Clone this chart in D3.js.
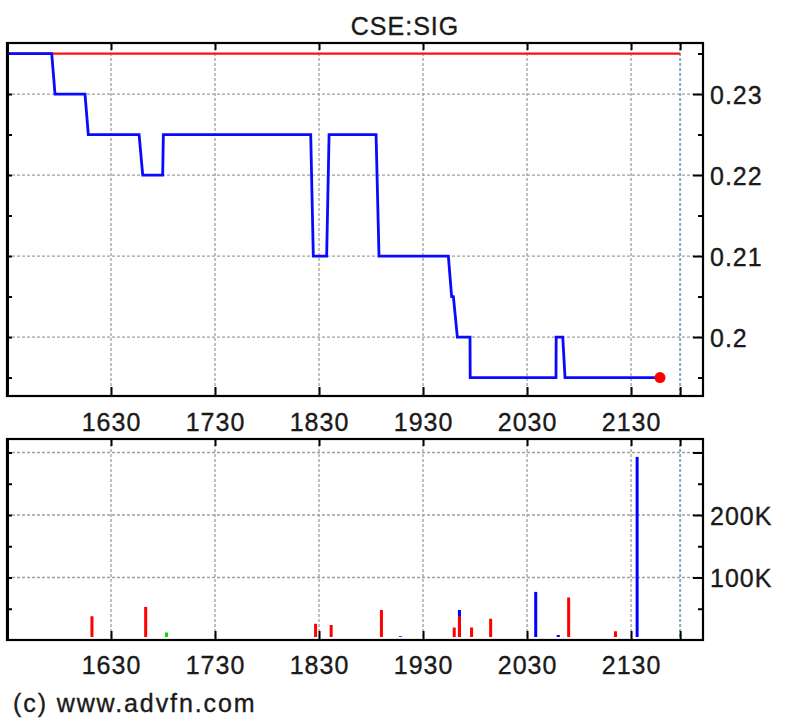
<!DOCTYPE html>
<html><head><meta charset="utf-8">
<script src="https://cdn.jsdelivr.net/npm/d3@7"></script>
<style>
body{margin:0;background:#fff}
text{font-family:"Liberation Sans",Arial,sans-serif;fill:#1a1a1a;letter-spacing:1px;stroke:#1a1a1a;stroke-width:0.35px}
</style>
</head><body>
<svg id="c" width="810" height="726"></svg>
<script>
// ---------- data ----------
const title = "CSE:SIG";
const copyright = "(c) www.advfn.com";
const sessionStart = "15:30:00";
const sessionEnd = "21:58:18";
const axisEnd = "22:11:30";
const xTickLabels = ["1630", "1730", "1830", "1930", "2030", "2130"];

const priceTimes = ["15:30:00","15:55:48","15:57:42","16:15:00","16:16:54","16:46:12","16:48:18","16:59:48",
  "17:00:12","18:25:12","18:26:42","18:34:24","18:35:48","19:02:54","19:04:36","19:44:36","19:46:30",
  "19:47:30","19:49:48","19:57:06","19:57:12","20:46:42","20:46:48","20:50:36","20:51:54","21:46:42"];
const priceValues = [0.235,0.235,0.23,0.23,0.225,0.225,0.22,0.22,
  0.225,0.225,0.21,0.21,0.225,0.225,0.21,0.21,0.205,
  0.205,0.2,0.2,0.195,0.195,0.2,0.2,0.195,0.195];
const refPrice = 0.235;
const priceTicks = [0.2, 0.21, 0.22, 0.23];
const priceTickLabels = ["0.2", "0.21", "0.22", "0.23"];
const priceMinorTicks = [0.195, 0.205, 0.215, 0.225, 0.235];
const priceDomain = [0.19272, 0.2363];

const volTimes = ["16:19:00","16:50:00","17:02:00","18:28:00","18:37:00","19:06:00","19:17:00","19:48:00",
  "19:51:00","19:51:00","19:58:00","20:09:00","20:35:00","20:48:00","20:54:00","21:21:00","21:33:30"];
const volValues = [38000,53000,12000,26000,24000,48000,6000,20000,
  48000,38000,20000,34000,77000,8000,68000,14000,293000];
const volColors = ["red","red","green","red","red","red","blue","red",
  "blue","red","red","red","blue","blue","red","red","blue"];
const volGridTicks = [100000, 200000, 300000];
const volLabelTicks = [100000, 200000];
const volTickLabels = ["100K", "200K"];
const volMinorTicks = [50000, 150000, 250000];
const volDomain = [0, 321600];

// ---------- drawing ----------
const colorMap = {red: "#ff0000", blue: "#0000ff", green: "#00e000"};
const parseT = d3.timeParse("%H:%M:%S");
const parseHM = d3.timeParse("%H%M");
const svg = d3.select("#c");
const L = 7, R = 703;
const x = d3.scaleTime().domain([parseT(sessionStart), parseT(axisEnd)]).range([L, R]);
const xTicks = xTickLabels.map(parseHM);
const endT = parseT(sessionEnd);

const P = {top: 43, bottom: 396};
const V = {top: 439, bottom: 640};
const yP = d3.scaleLinear().domain(priceDomain).range([P.bottom, P.top]);
const yV = d3.scaleLinear().domain(volDomain).range([V.bottom, V.top]);

const gridStyle = s => s.attr("stroke", "#a0a0a0").attr("stroke-width", 1.3).attr("stroke-dasharray", "3,2");

function panel(box, y, grid, major, minor) {
  const g = svg.append("g");
  g.selectAll(".hg").data(grid).join("line")
    .attr("x1", L).attr("x2", R).attr("y1", d => y(d)).attr("y2", d => y(d)).call(gridStyle);
  g.selectAll(".vg").data(xTicks).join("line")
    .attr("x1", d => x(d)).attr("x2", d => x(d)).attr("y1", box.top).attr("y2", box.bottom).call(gridStyle);
  g.append("line").attr("x1", x(endT)).attr("x2", x(endT)).attr("y1", box.top).attr("y2", box.bottom)
    .attr("stroke", "#7fb0b8").attr("stroke-width", 2).attr("stroke-dasharray", "3,2");
  const allX = xTicks.concat([endT]);
  g.append("g").attr("transform", `translate(0,${box.top})`)
    .call(d3.axisBottom(x).tickValues(allX).tickSize(7).tickFormat(""))
    .call(a => a.select(".domain").remove())
    .selectAll("line").attr("stroke", "#000").attr("stroke-width", 2);
  g.append("g").attr("transform", `translate(0,${box.bottom})`)
    .call(d3.axisTop(x).tickValues(allX).tickSize(9).tickFormat(""))
    .call(a => a.select(".domain").remove())
    .selectAll("line").attr("stroke", "#000").attr("stroke-width", 2);
  g.append("g").attr("transform", `translate(${R},0)`)
    .call(d3.axisLeft(y).tickValues(major).tickSize(10).tickFormat(""))
    .call(a => a.select(".domain").remove())
    .selectAll("line").attr("stroke", "#000").attr("stroke-width", 2);
  g.append("g").attr("transform", `translate(${R},0)`)
    .call(d3.axisLeft(y).tickValues(minor).tickSize(5).tickFormat(""))
    .call(a => a.select(".domain").remove())
    .selectAll("line").attr("stroke", "#000").attr("stroke-width", 2);
  g.append("g").attr("transform", `translate(${L},0)`)
    .call(d3.axisRight(y).tickValues(major.concat(minor)).tickSize(5).tickFormat(""))
    .call(a => a.select(".domain").remove())
    .selectAll("line").attr("stroke", "#000").attr("stroke-width", 2);
  return g;
}

function frame(box) {
  svg.append("rect").attr("x", L).attr("y", box.top).attr("width", R - L).attr("height", box.bottom - box.top)
    .attr("fill", "none").attr("stroke", "#000").attr("stroke-width", 2.2);
  svg.append("line").attr("x1", L + 1).attr("x2", L + 1).attr("y1", box.top).attr("y2", box.bottom)
    .attr("stroke", "#000").attr("stroke-width", 2);
}

// ---- price panel ----
const gp = panel(P, yP, priceTicks, priceTicks, priceMinorTicks);
gp.append("line").attr("x1", x(parseT(sessionStart))).attr("x2", x(endT))
  .attr("y1", yP(refPrice)).attr("y2", yP(refPrice)).attr("stroke", "#ff1010").attr("stroke-width", 2.2);
const priceData = priceTimes.map((t, i) => [parseT(t), priceValues[i]]);
gp.append("path").datum(priceData)
  .attr("d", d3.line().x(d => x(d[0])).y(d => yP(d[1])))
  .attr("fill", "none").attr("stroke", "#0a0aff").attr("stroke-width", 2.8).attr("stroke-linejoin", "miter");
const last = priceData[priceData.length - 1];
gp.append("circle").attr("cx", x(last[0])).attr("cy", yP(last[1])).attr("r", 5.5).attr("fill", "#ff0000");
frame(P);

// ---- volume panel ----
const gv = panel(V, yV, volGridTicks, volGridTicks, volMinorTicks);
gv.selectAll(".bar").data(volTimes.map((t, i) => ({t: parseT(t), v: volValues[i], c: volColors[i]})))
  .join("line")
  .attr("x1", d => x(d.t)).attr("x2", d => x(d.t))
  .attr("y1", yV(0) - 3).attr("y2", d => yV(d.v))
  .attr("stroke", d => colorMap[d.c]).attr("stroke-width", 3);
frame(V);

// ---- labels ----
const labelFont = 25;
function styleText(sel) {
  sel.attr("font-size", labelFont)
    .style("font-family", '"Liberation Sans", Arial, sans-serif')
    .attr("fill", "#1a1a1a").attr("stroke", "#1a1a1a").attr("stroke-width", 0.35);
}
function xLabels(yPos) {
  svg.append("g").attr("transform", `translate(0,${yPos})`)
    .call(d3.axisBottom(x).tickValues(xTicks).tickSize(0).tickPadding(0).tickFormat((d, i) => xTickLabels[i]))
    .call(a => a.select(".domain").remove())
    .selectAll("text").attr("dy", 0).attr("y", 0).call(styleText);
}
xLabels(431);
xLabels(674);

svg.append("g").attr("transform", `translate(${R},0)`)
  .call(d3.axisRight(yP).tickValues(priceTicks).tickSize(0).tickPadding(7).tickFormat((d, i) => priceTickLabels[i]))
  .call(a => a.select(".domain").remove())
  .selectAll("text").attr("dy", "0.36em").call(styleText);
svg.append("g").attr("transform", `translate(${R},0)`)
  .call(d3.axisRight(yV).tickValues(volLabelTicks).tickSize(0).tickPadding(7).tickFormat((d, i) => volTickLabels[i]))
  .call(a => a.select(".domain").remove())
  .selectAll("text").attr("dy", "0.36em").call(styleText);

svg.append("text").attr("x", 405).attr("y", 35).attr("text-anchor", "middle")
  .attr("font-size", labelFont).text(title);
svg.append("text").attr("x", 13).attr("y", 712).attr("font-size", labelFont)
  .style("letter-spacing", "1.9px").text(copyright);
</script>
</body></html>
